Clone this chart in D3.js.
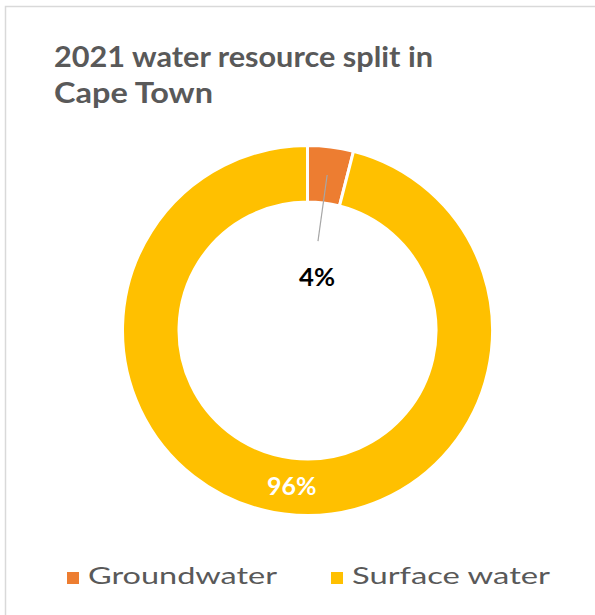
<!DOCTYPE html>
<html>
<head>
<meta charset="utf-8">
<script src="https://cdn.jsdelivr.net/npm/d3@7"></script>
<style>
  html, body { margin: 0; padding: 0; background: #fff; }
  svg { display: block; }
</style>
</head>
<body>
<svg id="chart" width="595" height="615"></svg>
<script>
// ---- data ----
const categories = ["Groundwater", "Surface water"];
const values = [4, 96];
const labels = ["4%", "96%"];
const colors = ["#ED7D31", "#FFC000"];
const titleLines = ["2021 water resource split in", "Cape Town"];

const svg = d3.select("#chart");
const W = 595, H = 615;

// border
svg.append("rect")
  .attr("x", 5.5).attr("y", 6.5)
  .attr("width", 620).attr("height", 640)
  .attr("fill", "#fff")
  .attr("stroke", "#d9d9d9").attr("stroke-width", 1.5);

// fit text to target width helper
function fit(sel, w) {
  const len = sel.node().getComputedTextLength();
  if (Math.abs(len - w) > 1) sel.attr("textLength", w).attr("lengthAdjust", "spacingAndGlyphs");
}

// title
const titleWidths = [379, 159];
titleLines.forEach((t, i) => {
  const tx = svg.append("text")
    .attr("x", 54).attr("y", 66.7 + i * 36.3)
    .attr("font-family", "Lato, 'Open Sans', sans-serif")
    .attr("font-weight", 700)
    .attr("font-size", 28)
    .attr("fill", "#595959")
    .text(t);
  fit(tx, titleWidths[i]);
});

// donut
const cx = 307.5, cy = 330.5;
const outerR = 185, innerR = 128.5;
const pie = d3.pie().sort(null).value(d => d)(values);
const arc = d3.arc().innerRadius(innerR).outerRadius(outerR);
const g = svg.append("g").attr("transform", `translate(${cx},${cy})`);

g.selectAll("path.slice")
  .data(pie)
  .join("path")
  .attr("class", "slice")
  .attr("d", arc)
  .attr("fill", (d, i) => colors[i])
  .attr("stroke", "#fff")
  .attr("stroke-width", 3)
  .attr("stroke-linejoin", "miter");

// Groundwater label with leader line
const d0 = pie[0];
const mid0 = (d0.startAngle + d0.endAngle) / 2;
const c0 = arc.centroid(d0);
const lineEndR = 90, lineEndA = mid0 - 0.009;
const lx = Math.sin(lineEndA) * lineEndR, ly = -Math.cos(lineEndA) * lineEndR;
g.append("line")
  .attr("x1", c0[0]).attr("y1", c0[1])
  .attr("x2", lx).attr("y2", ly)
  .attr("stroke", "#a6a6a6").attr("stroke-width", 1.2);

const l0 = g.append("text")
  .attr("x", lx - 1).attr("y", ly + 44.5)
  .attr("text-anchor", "middle")
  .attr("font-family", "Lato, 'Open Sans', sans-serif")
  .attr("font-weight", 700)
  .attr("font-size", 24)
  .attr("fill", "#000")
  .text(labels[0]);
fit(l0, 36);

// Surface water label inside ring
const c1 = arc.centroid(pie[1]);
const l1 = g.append("text")
  .attr("x", c1[0] + 4).attr("y", c1[1] + 8.5)
  .attr("text-anchor", "middle")
  .attr("font-family", "Lato, 'Open Sans', sans-serif")
  .attr("font-weight", 700)
  .attr("font-size", 25)
  .attr("fill", "#fff")
  .text(labels[1]);
fit(l1, 50);

// legend
const legendX = [67, 331];
const legendW = [189, 198];
categories.forEach((c, i) => {
  svg.append("rect")
    .attr("x", legendX[i]).attr("y", 572)
    .attr("width", 12).attr("height", 12)
    .attr("fill", colors[i]);
  const t = svg.append("text")
    .attr("x", legendX[i] + 21).attr("y", 583.5)
    .attr("font-family", "Lato, 'Open Sans', sans-serif")
    .attr("font-size", 23)
    .attr("fill", "#595959")
    .text(c);
  fit(t, legendW[i]);
});
</script>
</body>
</html>
